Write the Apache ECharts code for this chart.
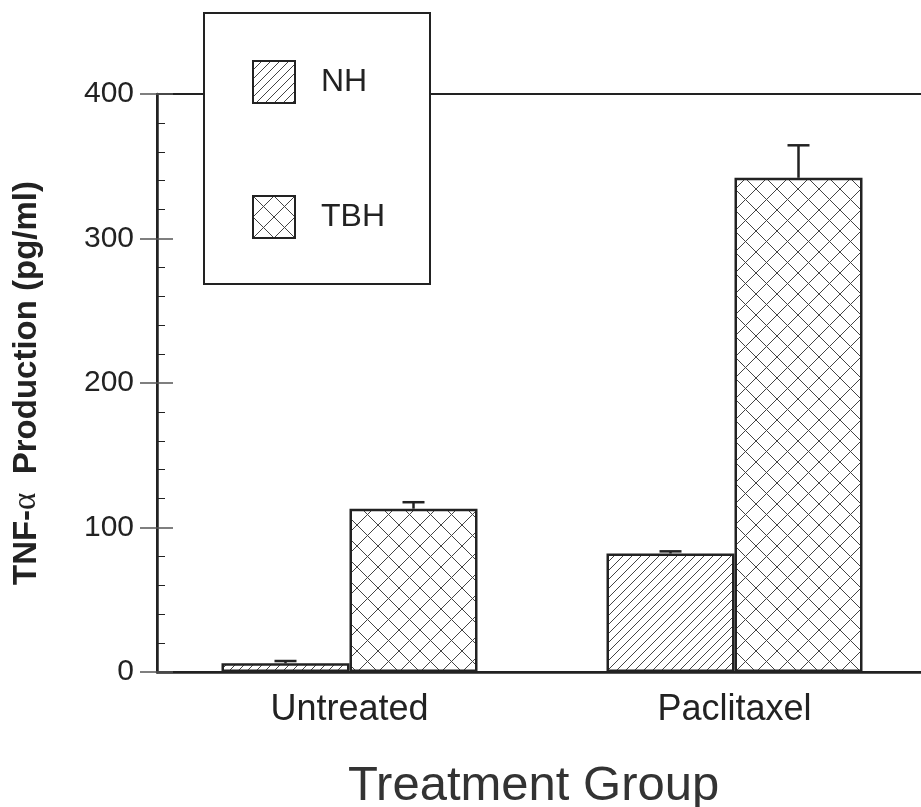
<!DOCTYPE html>
<html>
<head>
<meta charset="utf-8">
<script src="https://cdn.jsdelivr.net/npm/echarts@6/dist/echarts.min.js"></script>
<style>
	html, body { margin: 0; padding: 0; background: #fff; }
	#chart { width: 921px; height: 807px; }
</style>
</head>
<body>
<div id="chart"></div>
<script>
// 資料
var categories = ["Untreated", "Paclitaxel"];
var nhMean = [6, 82];
var nhErr = [1.6, 1.5];
var tbhMean = [113, 342];
var tbhErr = [4.5, 22.5];
var yTicks = [0, 100, 200, 300, 400];

var ink = "#222";
var font = "Liberation Sans";
var barWidth = 128;

// 斜線
function hatch() {
	var c = document.createElement("canvas");
	c.width = 9;
	c.height = 9;
	var ctx = c.getContext("2d");
	ctx.strokeStyle = "#444";
	ctx.lineWidth = 1;
	ctx.beginPath();
	ctx.moveTo(-1, 10); ctx.lineTo(10, -1);
	ctx.moveTo(-1, 1); ctx.lineTo(1, -1);
	ctx.moveTo(8, 10); ctx.lineTo(10, 8);
	ctx.stroke();
	return { image: c, repeat: "repeat" };
}

// 交叉網格
function cross() {
	var c = document.createElement("canvas");
	c.width = 21;
	c.height = 21;
	var ctx = c.getContext("2d");
	ctx.strokeStyle = "#444";
	ctx.lineWidth = 1;
	ctx.beginPath();
	ctx.moveTo(-1, -1); ctx.lineTo(22, 22);
	ctx.moveTo(-1, 22); ctx.lineTo(22, -1);
	ctx.stroke();
	return { image: c, repeat: "repeat" };
}

function errorData(means, errs, side) {
	return means.map(function (m, i) {
		return [i, m, errs[i], side];
	});
}

function renderError(params, api) {
	var i = api.value(0);
	var m = api.value(1);
	var e = api.value(2);
	var side = api.value(3);
	var base = api.coord([i, m]);
	var top = api.coord([i, m + e]);
	var x = base[0] + side * barWidth / 2;
	var style = { stroke: ink, lineWidth: 2.5 };
	return {
		type: "group",
		children: [
			{ type: "line", shape: { x1: x, y1: base[1], x2: x, y2: top[1] }, style: style },
			{ type: "line", shape: { x1: x - 11, y1: top[1], x2: x + 11, y2: top[1] }, style: style }
		]
	};
}

var myChart = echarts.init(document.getElementById("chart"), null, { renderer: "canvas" });

var option = {
	backgroundColor: "#fff",
	animation: false,
	textStyle: { fontFamily: font },
	title: {
		text: "Treatment Group",
		left: 348,
		top: 762,
		padding: 0,
		textStyle: { fontSize: 49, fontWeight: "normal", color: "#333", fontFamily: font }
	},
	legend: {
		data: ["NH", "TBH"],
		orient: "vertical",
		left: 204,
		top: 13,
		padding: [47, 45, 45, 48],
		itemWidth: 42,
		itemHeight: 42,
		itemGap: 91,
		icon: "rect",
		backgroundColor: "#fff",
		borderColor: ink,
		borderWidth: 2,
		borderRadius: 0,
		textStyle: { fontSize: 32, color: ink, fontFamily: font, padding: [0, 0, 0, 21] }
	},
	grid: {
		left: 157,
		top: 94,
		right: -6,
		bottom: 135,
		outerBoundsMode: "none",
		show: true,
		borderColor: ink,
		borderWidth: 2
	},
	xAxis: {
		type: "category",
		data: categories,
		axisLine: { lineStyle: { color: ink, width: 2.5 } },
		axisTick: { show: false },
		axisLabel: { fontSize: 36, color: ink, margin: 20, fontFamily: font }
	},
	yAxis: [
		{
			type: "value",
			min: yTicks[0],
			max: yTicks[yTicks.length - 1],
			interval: 100,
			name: "{b|TNF-}{a|α}{b|  Production (pg/ml)}",
			nameLocation: "middle",
			nameGap: 114,
			nameTextStyle: {
				rich: {
					b: { fontSize: 33, fontWeight: "bold", color: ink, fontFamily: font },
					a: { fontSize: 33, fontWeight: "normal", color: ink, fontFamily: "Liberation Serif" }
				}
			},
			axisLine: { show: true, lineStyle: { color: ink, width: 2.5 } },
			axisTick: { show: true, length: 17, lineStyle: { color: "#555", width: 1.5 } },
			axisLabel: { fontSize: 30, color: ink, margin: 23, fontFamily: font },
			splitLine: { show: false }
		},
		{
			type: "value",
			min: yTicks[0],
			max: yTicks[yTicks.length - 1],
			interval: 100,
			position: "left",
			axisLine: { show: false },
			axisLabel: { show: false },
			axisTick: { show: true, inside: true, length: 16, lineStyle: { color: "#555", width: 1.5 } },
			minorTick: { show: true, splitNumber: 5, length: 8, lineStyle: { color: ink, width: 1 } },
			splitLine: { show: false }
		}
	],
	series: [
		{
			name: "NH",
			type: "bar",
			data: nhMean,
			barWidth: barWidth,
			barGap: "0%",
			itemStyle: { color: hatch(), borderColor: ink, borderWidth: 2.5 }
		},
		{
			name: "TBH",
			type: "bar",
			data: tbhMean,
			barWidth: barWidth,
			barGap: "0%",
			itemStyle: { color: cross(), borderColor: ink, borderWidth: 2.5 }
		},
		{
			name: "errNH",
			type: "custom",
			renderItem: renderError,
			encode: { x: 0, y: 1 },
			data: errorData(nhMean, nhErr, -1),
			z: 3
		},
		{
			name: "errTBH",
			type: "custom",
			renderItem: renderError,
			encode: { x: 0, y: 1 },
			data: errorData(tbhMean, tbhErr, 1),
			z: 3
		}
	]
};
myChart.setOption(option);
window.addEventListener("resize", myChart.resize);
</script>
</body>
</html>
